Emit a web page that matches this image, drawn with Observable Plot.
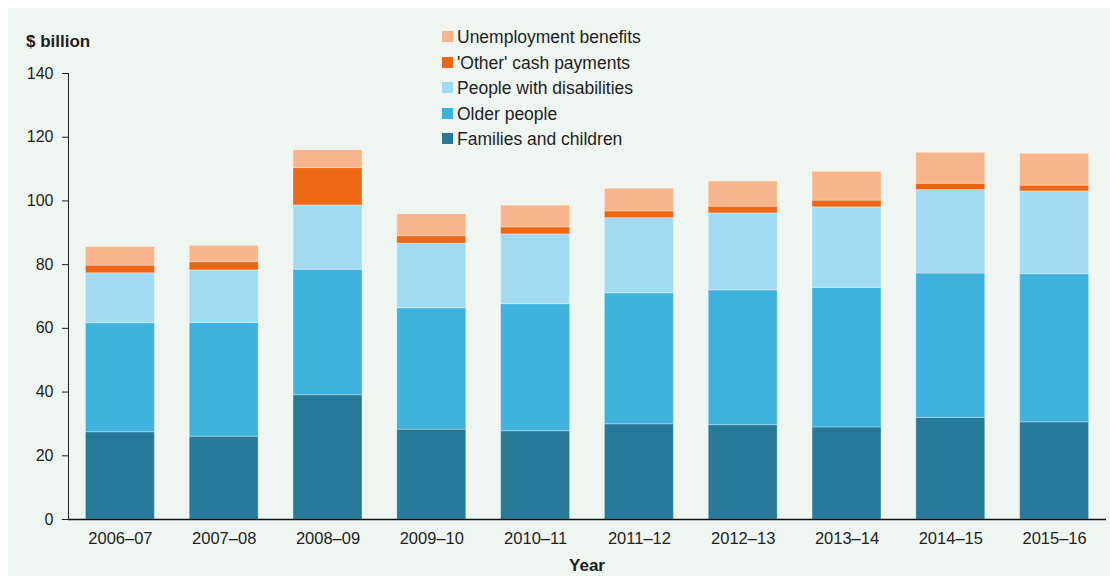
<!DOCTYPE html>
<html>
<head>
<meta charset="utf-8">
<script src="https://cdn.jsdelivr.net/npm/d3@7"></script>
<script src="https://cdn.jsdelivr.net/npm/@observablehq/plot@0.6"></script>
<style>
  body { margin: 0; background: #fff; font-family: "Liberation Sans", Arial, sans-serif; color: #1e1e1e; }
  #wrap { position: relative; width: 1110px; height: 576px; overflow: hidden; }
  #panel { position: absolute; left: 8px; top: 8px; right: 0; bottom: 0; background: #eff5f1; }
  #chart { position: absolute; left: 0; top: 0; }
  .ylab { position: absolute; left: 26px; top: 32px; font-weight: bold; font-size: 17px; line-height: 20px; }
  .xlab { position: absolute; left: 487px; width: 200px; text-align: center; top: 556px; font-weight: bold; font-size: 17px; line-height: 20px; }
  #legend { position: absolute; left: 441px; top: 0; }
  .row { position: absolute; left: 0; height: 20px; line-height: 20px; white-space: nowrap; font-size: 17.5px; }
  .sw { position: absolute; left: 1px; top: 4px; width: 11px; height: 11px; }
  .lt { position: absolute; left: 16px; top: 0; }
</style>
</head>
<body>
<div id="wrap">
  <div id="panel"></div>
  <div id="chart"></div>
  <div class="ylab">$ billion</div>
  <div class="xlab">Year</div>
  <div id="legend"></div>
</div>
<script>
const years = ["2006–07", "2007–08", "2008–09", "2009–10", "2010–11", "2011–12", "2012–13", "2013–14", "2014–15", "2015–16"];
const seriesNames = ["Families and children", "Older people", "People with disabilities", "'Other' cash payments", "Unemployment benefits"];
const seriesColors = ["#267a98", "#3eb1dd", "#a3daf3", "#ec6614", "#f8b48a"];
const families = [27.4, 26.0, 39.0, 28.2, 27.7, 29.9, 29.6, 28.9, 31.9, 30.5];
const older = [34.2, 35.7, 39.4, 38.1, 39.9, 41.1, 42.3, 43.8, 45.3, 46.5];
const disabilities = [15.7, 16.5, 20.2, 20.3, 21.9, 23.6, 24.2, 25.3, 26.2, 26.0];
const otherCash = [2.4, 2.6, 11.7, 2.3, 2.2, 2.1, 2.1, 2.1, 2.0, 1.8];
const unemployment = [5.8, 5.1, 5.6, 6.9, 6.8, 7.1, 7.9, 9.0, 9.7, 10.0];
const yTicks = [0, 20, 40, 60, 80, 100, 120, 140];

const seriesValues = [families, older, disabilities, otherCash, unemployment];
const data = [];
years.forEach((yr, i) => {
  seriesNames.forEach((s, j) => data.push({year: yr, series: s, value: seriesValues[j][i]}));
});

const chart = Plot.plot({
  width: 1110,
  height: 576,
  marginLeft: 68,
  marginRight: 4,
  marginTop: 73,
  marginBottom: 57,
  style: {background: "none", fontFamily: "'Liberation Sans', Arial, sans-serif", fontSize: "16px", color: "#1e1e1e"},
  x: {domain: years, paddingInner: 0.336, paddingOuter: 0.168, round: false, label: null},
  y: {domain: [0, 140], label: null},
  color: {domain: seriesNames, range: seriesColors},
  marks: [
    Plot.barY(data, {x: "year", y: "value", fill: "series", order: seriesNames, stroke: "#ffffff", strokeOpacity: 0.3, strokeWidth: 1}),
    Plot.axisY({ticks: yTicks, tickSize: 6, tickPadding: 9, label: null, fontSize: 16, stroke: "#222"}),
    Plot.axisX({tickSize: 0, tickPadding: 13, label: null, fontSize: 16.5}),
    Plot.ruleY([0], {stroke: "#111", strokeWidth: 1.5}),
    Plot.frame({anchor: "left", stroke: "#222"})
  ]
});
document.getElementById("chart").appendChild(chart);

const legendOrder = [4, 3, 2, 1, 0];
const centers = [37, 63, 88, 114, 139];
const legend = document.getElementById("legend");
legendOrder.forEach((j, k) => {
  const row = document.createElement("div");
  row.className = "row";
  row.style.top = (centers[k] - 10) + "px";
  row.innerHTML = `<span class="sw" style="background:${seriesColors[j]}"></span><span class="lt"></span>`;
  row.querySelector(".lt").textContent = seriesNames[j];
  legend.appendChild(row);
});
</script>
</body>
</html>
